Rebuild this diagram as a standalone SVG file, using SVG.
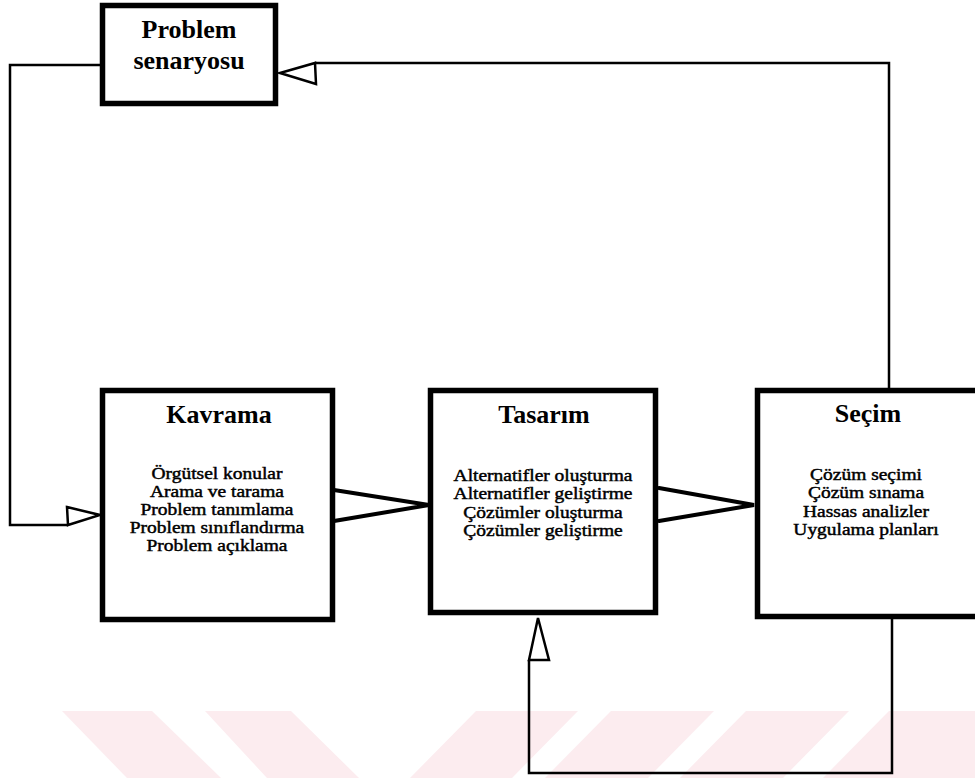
<svg xmlns="http://www.w3.org/2000/svg" width="975" height="778" viewBox="0 0 975 778">
  <style>
    .box { fill: #ffffff; stroke: #000000; stroke-width: 5.5; }
    .wire { fill: none; stroke: #000000; stroke-width: 2.5; stroke-linejoin: miter; }
    .wide { fill: none; stroke: #000000; stroke-width: 4; stroke-linecap: round; }
    .head { fill: #ffffff; stroke: #000000; stroke-width: 2.5; stroke-linejoin: miter; }
    .title { font-family: "Liberation Serif", "Times New Roman", serif; font-size: 26px; font-weight: bold; fill: #000; text-anchor: middle; }
    .body { font-family: "Liberation Serif", "Times New Roman", serif; font-size: 16.5px; fill: #000; stroke: #000; stroke-width: 0.45; text-anchor: middle; }
    .band { fill: #fcecef; }
  </style>

  <rect width="975" height="778" fill="#ffffff"/>

  <!-- faint band of diagonal stripes along the bottom edge -->
  <g id="stripes">
    <polygon class="band" points="62,711 152,711 221,778 127,778"/>
    <polygon class="band" points="205,711 291,711 359,778 267,778"/>
    <polygon class="band" points="476,711 578,711 512,778 410,778"/>
    <polygon class="band" points="611,711 714,711 648,778 545,778"/>
    <polygon class="band" points="746,711 849,711 783,778 680,778"/>
    <polygon class="band" points="889,711 975,711 975,778 823,778"/>
  </g>

  <g id="connectors">
    <!-- Problem senaryosu down to Kavrama -->
    <polyline class="wire" points="102,65 10,65 10,525 68,525"/>
    <polygon class="head" points="67,507 100,515 68,525"/>
    <!-- Seçim back up to Problem senaryosu -->
    <polyline class="wire" points="889,388 889,63 315,63"/>
    <polygon class="head" points="280,73 315,63 316,84"/>
    <!-- Kavrama to Tasarım -->
    <polyline class="wide" points="334,490 429,505 334,521"/>
    <!-- Tasarım to Seçim -->
    <polyline class="wide" points="659,488 754,505 659,521"/>
    <!-- Seçim loop back to Tasarım -->
    <polyline class="wire" points="892,618 892,773 529,773 529,660"/>
    <polygon class="head" points="538,618 549,660 529,660"/>
  </g>

  <g id="problem-senaryosu">
    <rect class="box" x="102.5" y="5.5" width="173" height="98"/>
    <text class="title" x="189" y="38">Problem</text>
    <text class="title" x="189" y="69">senaryosu</text>
  </g>

  <g id="kavrama">
    <rect class="box" x="102.5" y="390.5" width="230" height="229"/>
    <text class="title" x="219" y="423">Kavrama</text>
    <g transform="translate(217 0) scale(1.18 1)">
      <text class="body" x="0" y="479">Örgütsel konular</text>
      <text class="body" x="0" y="497">Arama ve tarama</text>
      <text class="body" x="0" y="515">Problem tanımlama</text>
      <text class="body" x="0" y="533">Problem sınıflandırma</text>
      <text class="body" x="0" y="551">Problem açıklama</text>
    </g>
  </g>

  <g id="tasarim">
    <rect class="box" x="430.5" y="390.5" width="225" height="222"/>
    <text class="title" x="544" y="423">Tasarım</text>
    <g transform="translate(543 0) scale(1.18 1)">
      <text class="body" x="0" y="481">Alternatifler oluşturma</text>
      <text class="body" x="0" y="499.5">Alternatifler geliştirme</text>
      <text class="body" x="0" y="518">Çözümler oluşturma</text>
      <text class="body" x="0" y="536.5">Çözümler geliştirme</text>
    </g>
  </g>

  <g id="secim">
    <rect class="box" x="757.5" y="390.5" width="225" height="226"/>
    <text class="title" x="868" y="422">Seçim</text>
    <g transform="translate(866 0) scale(1.18 1)">
      <text class="body" x="0" y="480">Çözüm seçimi</text>
      <text class="body" x="0" y="498.5">Çözüm sınama</text>
      <text class="body" x="0" y="517">Hassas analizler</text>
      <text class="body" x="0" y="535.5">Uygulama planları</text>
    </g>
  </g>
</svg>
